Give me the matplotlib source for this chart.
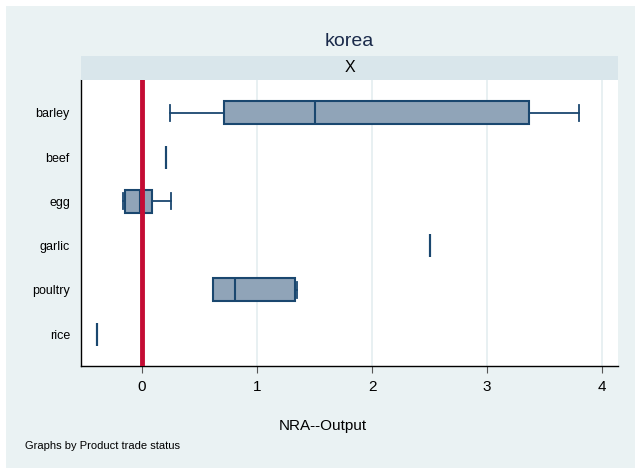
import matplotlib
matplotlib.use("Agg")
import matplotlib.pyplot as plt
from matplotlib.patches import Rectangle

plt.rcParams['font.family'] = ['Liberation Sans', 'DejaVu Sans']

# Products (top to bottom) and their NRA--Output box statistics
products = ["barley", "beef", "egg", "garlic", "poultry", "rice"]
whisker_lo = [0.246, 0.208, -0.160, 2.50, 0.622, -0.388]
q1 =         [0.715, 0.208, -0.142, 2.50, 0.622, -0.388]
median =     [1.505, 0.208, -0.012, 2.50, 0.813, -0.388]
q3 =         [3.360, 0.208, 0.087, 2.50, 1.334, -0.388]
whisker_hi = [3.800, 0.208, 0.252, 2.50, 1.350, -0.388]

xticks = [0, 1, 2, 3, 4]
country = "korea"
panel = "X"

bg = "#eaf2f3"
strip_col = "#d9e6eb"
navy = "#1a476f"
box_fill = "#90a4b8"

W, H = 635, 470
fig = plt.figure(figsize=(W / 100, H / 100), dpi=100)
fig.patch.set_facecolor("white")
fig.patches.append(Rectangle((6 / W, 2 / H), (W - 6) / W, (H - 8) / H,
                             transform=fig.transFigure, facecolor=bg,
                             edgecolor="none", zorder=-10))

ax_l, ax_r, ax_t, ax_b = 81, 618, 80, 366
ax = fig.add_axes([ax_l / W, (H - ax_b) / H, (ax_r - ax_l) / W, (ax_b - ax_t) / H])
ax.set_facecolor("white")

stats = []
for i, name in enumerate(products):
    stats.append(dict(label=name, whislo=whisker_lo[i], q1=q1[i], med=median[i],
                      q3=q3[i], whishi=whisker_hi[i], fliers=[]))

pos = list(range(len(products)))
ax.bxp(stats, positions=pos, vert=False, widths=0.52, capwidths=0.36,
       patch_artist=True, showfliers=False,
       boxprops=dict(facecolor=box_fill, edgecolor=navy, linewidth=1.5),
       medianprops=dict(color=navy, linewidth=1.5),
       whiskerprops=dict(color=navy, linewidth=1.3),
       capprops=dict(color=navy, linewidth=1.3), zorder=3)

ax.axvline(0, color="#c40c34", linewidth=3.5, zorder=4)

ax.set_xlim(-0.527, 4.136)
ax.set_ylim(len(products) - 1 + 0.72, -0.74)
ax.set_xticks(xticks)
ax.set_xticklabels([str(t) for t in xticks], fontsize=11)
ax.set_yticks(pos)
ax.set_yticklabels(products, fontsize=9)
ax.tick_params(axis="y", length=0, pad=8)
ax.tick_params(axis="x", length=5, width=0.8, color="#555555", pad=5)
ax.grid(axis="x", color="#e4edf0", linewidth=1.2, zorder=0)
ax.set_axisbelow(True)
for s in ["top", "right"]:
    ax.spines[s].set_visible(False)
for s in ["left", "bottom"]:
    ax.spines[s].set_color("black")
    ax.spines[s].set_linewidth(1.0)

# panel strip
sax = fig.add_axes([ax_l / W, (H - ax_t) / H, (ax_r - ax_l) / W, 24 / H])
sax.set_facecolor(strip_col)
sax.set_xticks([])
sax.set_yticks([])
for s in sax.spines.values():
    s.set_visible(False)
sax.text(0.5, 0.5, panel, ha="center", va="center", fontsize=11.5,
         transform=sax.transAxes)

fig.text((ax_l + ax_r) / 2 / W, 1 - 42 / H, country, ha="center", va="center",
         fontsize=14, color="#1a2a4a")
fig.text(323 / W, 1 - 426 / H, "NRA--Output", ha="center", va="center", fontsize=11)
fig.text(25 / W, 1 - 446 / H, "Graphs by Product trade status", ha="left",
         va="center", fontsize=8)

fig.savefig("out.png", dpi=100, facecolor=fig.get_facecolor())
